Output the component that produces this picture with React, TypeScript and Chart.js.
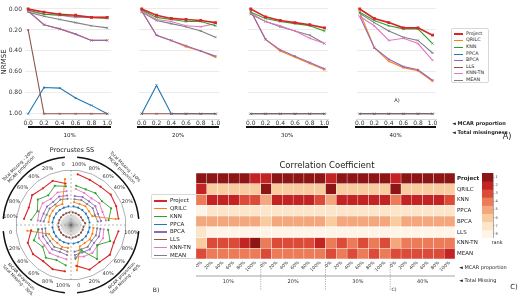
import React, { useEffect, useRef } from "react";
import { Chart, registerables } from "chart.js";
Chart.register(...registerables);

const FONT = "DejaVu Sans";
Chart.defaults.font.family = FONT;
Chart.defaults.color = "#333";

// ---------- shared categories ----------
const METHODS = ["Project", "QRILC", "KNN", "PPCA", "BPCA", "LLS", "KNN-TN", "MEAN"];
const METHOD_COLORS = ["#d62728", "#ff7f0e", "#2ca02c", "#1f77b4", "#9467bd", "#8c564b", "#e377c2", "#7f7f7f"];
const MCAR_PROPS = [0, 0.2, 0.4, 0.6, 0.8, 1.0];
const MCAR_LABELS = ["0%", "20%", "40%", "60%", "80%", "100%"];
const POLAR_LABELS = ["0", "20%", "40%", "60%", "80%", "100%"];
const TOTAL_MISSING = ["10%", "20%", "30%", "40%"];
const NRMSE_TICKS = [0, 0.2, 0.4, 0.6, 0.8, 1.0];
const RANK_LEVELS = [1, 2, 3, 4, 5, 6, 7, 8];
const RANK_COLORS = ["#8e1515", "#c42323", "#dc4a38", "#ec7b58", "#f4a67c", "#f8cc9f", "#fce5c8", "#fff4e8"];

// ---------- A) NRMSE (per total missingness 10/20/30/40 %, over MCAR proportion) ----------
const nrmseProject = [
  [0.0, 0.03, 0.05, 0.06, 0.08, 0.08],
  [0.0, 0.06, 0.09, 0.1, 0.11, 0.13],
  [0.0, 0.075, 0.11, 0.13, 0.15, 0.18],
  [0.0, 0.09, 0.13, 0.18, 0.18, 0.25],
];
const nrmseQRILC = [
  [0.02, 0.15, 0.19, 0.24, 0.3, 0.3],
  [0.02, 0.25, 0.3, 0.36, 0.4, 0.46],
  [0.02, 0.29, 0.4, 0.46, 0.52, 0.58],
  [0.03, 0.37, 0.5, 0.56, 0.59, 0.69],
];
const nrmseKNN = [
  [0.01, 0.05, 0.06, 0.07, 0.08, 0.09],
  [0.01, 0.08, 0.1, 0.12, 0.12, 0.16],
  [0.03, 0.09, 0.12, 0.14, 0.16, 0.21],
  [0.03, 0.11, 0.16, 0.19, 0.19, 0.33],
];
const nrmsePPCA = [
  [1.0, 0.75, 0.755, 0.85, 0.92, 1.0],
  [1.0, 0.73, 1.0, 1.0, 1.0, 1.0],
  [1.0, 1.0, 1.0, 1.0, 1.0, 1.0],
  [1.0, 1.0, 1.0, 1.0, 1.0, 1.0],
];
const nrmseBPCA = [
  [0.02, 0.15, 0.19, 0.24, 0.3, 0.3],
  [0.02, 0.25, 0.3, 0.35, 0.4, 0.45],
  [0.02, 0.29, 0.39, 0.45, 0.51, 0.57],
  [0.07, 0.37, 0.48, 0.55, 0.58, 0.68],
];
const nrmseLLS = [
  [0.2, 1.0, 1.0, 1.0, 1.0, 1.0],
  [1.0, 1.0, 1.0, 1.0, 1.0, 1.0],
  [1.0, 1.0, 1.0, 1.0, 1.0, 1.0],
  [1.0, 1.0, 1.0, 1.0, 1.0, 1.0],
];
const nrmseKNNTN = [
  [0.02, 0.05, 0.06, 0.08, 0.08, 0.08],
  [0.02, 0.1, 0.12, 0.16, 0.17, 0.14],
  [0.04, 0.12, 0.16, 0.21, 0.28, 0.33],
  [0.07, 0.16, 0.3, 0.28, 0.33, 0.49],
];
const nrmseMEAN = [
  [0.03, 0.07, 0.1, 0.13, 0.16, 0.18],
  [0.03, 0.11, 0.14, 0.17, 0.21, 0.27],
  [0.05, 0.12, 0.17, 0.21, 0.25, 0.33],
  [0.04, 0.13, 0.21, 0.27, 0.3, 0.42],
];

// ---------- B) Procrustes SS radial score ----------
const procProject = [
  [8.7, 8.9, 9.1, 8.8, 8.9, 9.3],
  [7.6, 8.7, 8.4, 8.9, 8.3, 8.6],
  [7.3, 8.5, 8.7, 8.3, 8.7, 8.5],
  [7.5, 8.8, 8.5, 8.9, 8.4, 8.7],
];
const procQRILC = [
  [8.2, 4.2, 4.1, 4.3, 4.1, 4.2],
  [8.4, 4.1, 4.3, 4.2, 4.2, 4.1],
  [8.0, 4.3, 4.2, 4.1, 4.3, 4.2],
  [8.3, 4.2, 4.1, 4.3, 4.2, 4.1],
];
const procKNN = [
  [6.9, 7.9, 7.1, 7.3, 7.0, 7.2],
  [7.1, 7.7, 6.8, 7.6, 6.6, 7.3],
  [6.0, 7.3, 6.5, 7.5, 6.9, 7.4],
  [6.2, 5.0, 7.8, 6.0, 7.7, 6.8],
];
const procPPCA = [
  [3.4, 3.4, 3.4, 3.4, 3.4, 3.4],
  [3.4, 3.4, 3.4, 3.4, 3.4, 3.4],
  [3.4, 3.4, 3.4, 3.4, 3.4, 3.4],
  [3.4, 3.4, 3.4, 3.4, 3.4, 3.4],
];
const procBPCA = [
  [5.5, 5.3, 5.6, 5.4, 5.5, 5.3],
  [5.4, 5.6, 5.3, 5.5, 5.4, 5.6],
  [5.3, 5.5, 5.4, 5.6, 5.3, 5.5],
  [5.5, 5.4, 5.6, 5.3, 5.5, 5.4],
];
const procLLS = [
  [2.6, 2.3, 2.3, 2.3, 2.3, 2.3],
  [2.3, 2.3, 2.3, 2.3, 2.3, 2.3],
  [2.3, 2.3, 2.3, 2.3, 2.3, 2.3],
  [2.3, 2.3, 2.3, 2.3, 2.3, 2.3],
];
const procKNNTN = [
  [6.4, 6.2, 6.5, 6.1, 6.3, 6.6],
  [6.2, 6.4, 6.0, 6.5, 6.3, 6.1],
  [6.0, 6.3, 6.1, 6.4, 6.2, 6.3],
  [5.9, 6.2, 6.4, 6.1, 6.3, 6.0],
];
const procMEAN = [
  [4.9, 4.7, 5.0, 4.8, 4.9, 4.7],
  [4.8, 5.0, 4.7, 4.9, 4.8, 5.0],
  [4.7, 4.9, 4.8, 5.0, 4.7, 4.9],
  [4.9, 4.8, 5.0, 4.7, 4.9, 4.8],
];

// ---------- C) Correlation coefficient rank (24 columns: 4 totals x 6 MCAR) ----------
const rankProject = [1, 1, 1, 1, 1, 2, 2, 1, 1, 1, 1, 1, 2, 1, 1, 1, 1, 1, 2, 1, 1, 1, 1, 1];
const rankQRILC = [2, 6, 6, 6, 6, 6, 1, 6, 6, 6, 6, 6, 1, 6, 6, 6, 6, 6, 1, 6, 6, 6, 6, 6];
const rankKNN = [4, 2, 2, 2, 3, 3, 5, 2, 2, 2, 2, 3, 5, 2, 2, 2, 2, 2, 4, 2, 2, 2, 2, 3];
const rankPPCA = [8, 7, 7, 7, 7, 7, 7, 7, 7, 7, 7, 7, 7, 7, 7, 7, 7, 7, 7, 7, 7, 7, 7, 7];
const rankBPCA = [5, 5, 5, 5, 5, 5, 6, 5, 5, 5, 5, 5, 6, 5, 5, 5, 5, 5, 6, 5, 5, 5, 5, 5];
const rankLLS = [7, 8, 8, 8, 8, 8, 8, 8, 8, 8, 8, 8, 8, 8, 8, 8, 8, 8, 8, 8, 8, 8, 8, 8];
const rankKNNTN = [6, 3, 3, 3, 2, 1, 4, 3, 3, 3, 3, 2, 4, 3, 4, 3, 4, 3, 5, 4, 4, 4, 4, 4];
const rankMEAN = [3, 4, 4, 4, 4, 4, 3, 4, 4, 4, 4, 4, 3, 4, 3, 4, 3, 4, 3, 3, 3, 3, 3, 2];

const NRMSE = [nrmseProject, nrmseQRILC, nrmseKNN, nrmsePPCA, nrmseBPCA, nrmseLLS, nrmseKNNTN, nrmseMEAN];
const PROC = [procProject, procQRILC, procKNN, procPPCA, procBPCA, procLLS, procKNNTN, procMEAN];
const RANKS = [rankProject, rankQRILC, rankKNN, rankPPCA, rankBPCA, rankLLS, rankKNNTN, rankMEAN];

// ---------- layout (not data) ----------
const PANEL_AREAS = [[25, 115], [134, 223], [243, 332], [352, 440]];
const PANEL_BARS = [[28, 111], [137, 219], [246, 328], [355, 436]];
const DRAW_ORDER = [0, 2, 6, 7, 5, 4, 1, 3]; // top-most first

const noPad = (s: any) => { s.paddingTop = 0; s.paddingBottom = 0; s.paddingLeft = 0; s.paddingRight = 0; };

function ChartCanvas({ x, y, w, h, make }: any) {
  const ref = useRef<HTMLCanvasElement>(null);
  useEffect(() => {
    const chart = new Chart(ref.current as HTMLCanvasElement, make());
    return () => chart.destroy();
  }, []);
  return (
    <canvas ref={ref} width={w} height={h}
      style={{ position: "absolute", left: x, top: y, width: w, height: h }} />
  );
}

function T({ x, y, s = 6, b = false, a = "c", r = 0, c = "#222", children }: any) {
  const tx = a === "c" ? "-50%" : a === "l" ? "0%" : "-100%";
  return (
    <div style={{
      position: "absolute", left: x, top: y, fontSize: s, fontWeight: b ? "bold" : "normal",
      color: c, fontFamily: FONT, lineHeight: 1.15, whiteSpace: "pre", textAlign: "center",
      transform: `translate(${tx},-50%) rotate(${r}deg)`,
    }}>{children}</div>
  );
}

function lineConfig(k: number) {
  return {
    type: "line",
    data: {
      datasets: DRAW_ORDER.map((m) => ({
        label: METHODS[m],
        data: MCAR_PROPS.map((p, i) => ({ x: p, y: NRMSE[m][k][i] })),
        borderColor: METHOD_COLORS[m],
        backgroundColor: METHOD_COLORS[m],
        pointBorderColor: METHOD_COLORS[m],
        borderWidth: m === 0 ? 1.6 : 1.1,
        pointStyle: m === 0 ? "rect" : "crossRot",
        pointRadius: m === 0 ? 2 : 1.4,
        pointBorderWidth: m === 0 ? 0 : 0.8,
        tension: 0,
      })),
    },
    options: {
      responsive: false,
      animation: false,
      events: [],
      layout: { padding: { top: 2, right: 1, left: 0, bottom: 0 } },
      plugins: { legend: { display: false }, tooltip: { enabled: false } },
      scales: {
        x: {
          type: "linear", min: -0.04, max: 1.05,
          afterBuildTicks: (s: any) => { s.ticks = MCAR_PROPS.map((v) => ({ value: v })); },
          ticks: { font: { size: 6 }, color: "#333", padding: 1, maxRotation: 0, autoSkip: false,
            callback: (v: any) => Number(v).toFixed(1) },
          grid: { display: false, drawTicks: false },
          border: { display: true, color: "#cfcfcf", width: 0.8 },
          afterFit: (s: any) => { s.height = 9; noPad(s); },
        },
        y: {
          type: "linear", reverse: true, min: -0.04, max: 1.05,
          afterBuildTicks: (s: any) => { s.ticks = NRMSE_TICKS.map((v) => ({ value: v })); },
          ticks: { display: k === 0, font: { size: 6 }, color: "#333", padding: 3,
            callback: (v: any) => Number(v).toFixed(2) },
          grid: { color: "#e6e6e6", drawTicks: false, lineWidth: 0.8 },
          border: { display: false },
          title: { display: k === 0, text: "NRMSE", font: { size: 7 }, color: "#222", padding: 0 },
          afterFit: (s: any) => { s.width = k === 0 ? 25 : 0; noPad(s); },
        },
      },
    },
  };
}

// radar: clockwise from 12 o'clock the quadrants are 10%, 40%, 30%, 20%
const POLAR_BLOCKS = [0, 3, 2, 1];
const RADAR_LABELS = POLAR_BLOCKS.flatMap(() => [...POLAR_LABELS].reverse());
const RADAR_START = 7.5;
function radarSeries(vals: number[][], q: number) {
  const out: (number | null)[] = Array(24).fill(null);
  POLAR_BLOCKS.forEach((qq, b) => {
    if (qq === q) for (let p = 0; p < 6; p++) out[b * 6 + p] = vals[q][5 - p];
  });
  return out;
}

const radarDecor = {
  id: "radarDecor",
  beforeDatasetsDraw(chart: any) {
    const r = chart.scales.r;
    const ctx = chart.ctx;
    const cx = r.xCenter, cy = r.yCenter, R = r.drawingArea;
    ctx.save();
    ctx.strokeStyle = "rgba(110,110,110,0.55)";
    ctx.lineWidth = 0.4;
    for (let i = 0; i < 72; i++) {
      const a = (i / 72) * Math.PI * 2;
      ctx.beginPath();
      ctx.moveTo(cx, cy);
      ctx.lineTo(cx + Math.cos(a) * R * 0.19, cy + Math.sin(a) * R * 0.19);
      ctx.stroke();
    }
    ctx.setLineDash([2, 2]);
    ctx.strokeStyle = "#9a9a9a";
    ctx.lineWidth = 0.7;
    ctx.beginPath();
    ctx.moveTo(cx - R, cy); ctx.lineTo(cx + R, cy);
    ctx.moveTo(cx, cy - R); ctx.lineTo(cx, cy + R);
    ctx.stroke();
    ctx.restore();
  },
  afterDraw(chart: any) {
    const r = chart.scales.r;
    const ctx = chart.ctx;
    const cx = r.xCenter, cy = r.yCenter, R = r.drawingArea;
    ctx.save();
    ctx.fillStyle = "#333";
    ctx.font = `5px ${FONT}`;
    ctx.textAlign = "center";
    ctx.textBaseline = "middle";
    RADAR_LABELS.forEach((lab, j) => {
      const a = ((RADAR_START + 15 * j) * Math.PI) / 180;
      const rr = R + 6;
      ctx.fillText(lab, cx + Math.sin(a) * rr, cy - Math.cos(a) * rr);
    });
    ctx.strokeStyle = "#111";
    ctx.lineWidth = 1.5;
    for (let q = 0; q < 4; q++) {
      ctx.beginPath();
      ctx.arc(cx, cy, R + 13, (q * Math.PI) / 2 + 0.09, ((q + 1) * Math.PI) / 2 - 0.09);
      ctx.stroke();
    }
    ctx.restore();
  },
};

function radarConfig() {
  const datasets: any[] = [];
  DRAW_ORDER.forEach((m) => {
    for (let q = 0; q < 4; q++) {
      datasets.push({
        label: METHODS[m],
        data: radarSeries(PROC[m], q),
        borderColor: METHOD_COLORS[m],
        backgroundColor: METHOD_COLORS[m],
        pointBackgroundColor: METHOD_COLORS[m],
        borderWidth: m === 0 ? 1.1 : 0.9,
        pointRadius: 1.1,
        pointBorderWidth: 0,
        fill: false,
        tension: 0,
        spanGaps: false,
      });
    }
  });
  return {
    type: "radar",
    data: { labels: RADAR_LABELS, datasets },
    plugins: [radarDecor],
    options: {
      responsive: false,
      animation: false,
      events: [],
      layout: { padding: 16 },
      plugins: { legend: { display: false }, tooltip: { enabled: false } },
      scales: {
        r: {
          min: 0, max: 10, startAngle: RADAR_START,
          ticks: { display: false, stepSize: 10 },
          grid: { color: (c: any) => (c.tick && c.tick.value === 10 ? "#9a9a9a" : "rgba(0,0,0,0)"), lineWidth: 0.8 },
          angleLines: { display: false },
          pointLabels: { display: false },
        },
      },
    },
  };
}

const HEAT_COLS = TOTAL_MISSING.flatMap(() => MCAR_LABELS);
const HEAT_BOTTOM_UP = [7, 6, 5, 4, 3, 2, 1, 0];

const heatDecor = {
  id: "heatDecor",
  afterDraw(chart: any) {
    const ctx = chart.ctx;
    const xs = chart.scales.x;
    const area = chart.chartArea;
    const step = xs.getPixelForValue(1) - xs.getPixelForValue(0);
    const lineY = area.bottom + 17;
    ctx.save();
    ctx.strokeStyle = "#8a8a8a";
    ctx.lineWidth = 0.8;
    ctx.beginPath();
    ctx.moveTo(area.left, lineY); ctx.lineTo(area.right, lineY);
    ctx.stroke();
    ctx.setLineDash([1.2, 1.2]);
    ctx.strokeStyle = "#777";
    ctx.lineWidth = 0.6;
    for (let g = 1; g < 4; g++) {
      const x = xs.getPixelForValue(g * 6) - step / 2;
      ctx.beginPath();
      ctx.moveTo(x, area.bottom + 3); ctx.lineTo(x, area.bottom + 31);
      ctx.stroke();
    }
    ctx.setLineDash([]);
    ctx.fillStyle = "#333";
    ctx.font = `5px ${FONT}`;
    ctx.textAlign = "center";
    ctx.textBaseline = "middle";
    TOTAL_MISSING.forEach((t, g) => {
      const x = (xs.getPixelForValue(g * 6 + 2) + xs.getPixelForValue(g * 6 + 3)) / 2;
      ctx.fillText(t, x, lineY + 6);
    });
    ctx.restore();
  },
};

function heatConfig() {
  return {
    type: "bar",
    data: {
      labels: HEAT_COLS,
      datasets: HEAT_BOTTOM_UP.map((m) => ({
        label: METHODS[m],
        data: HEAT_COLS.map(() => 1),
        backgroundColor: RANKS[m].map((r) => RANK_COLORS[r - 1]),
        borderColor: "rgba(255,255,255,0.45)",
        borderWidth: 0.5,
        borderSkipped: false,
        barPercentage: 1,
        categoryPercentage: 1,
      })),
    },
    plugins: [heatDecor],
    options: {
      responsive: false,
      animation: false,
      events: [],
      layout: { padding: 0 },
      plugins: { legend: { display: false }, tooltip: { enabled: false } },
      scales: {
        x: {
          stacked: true,
          grid: { display: false, drawTicks: false },
          border: { display: false },
          ticks: { font: { size: 4.5 }, color: "#333", minRotation: 45, maxRotation: 45, padding: 1, autoSkip: false },
          afterFit: (s: any) => { s.height = 37; noPad(s); },
        },
        y: {
          stacked: true, min: 0, max: 8, position: "right",
          afterBuildTicks: (s: any) => { s.ticks = HEAT_BOTTOM_UP.map((_, i) => ({ value: i + 0.5 })); },
          ticks: {
            autoSkip: false, padding: 2, color: "#222",
            font: (c: any) => ({ size: 5.5, weight: c.index === 7 ? "bold" : "normal" }),
            callback: (v: any) => METHODS[HEAT_BOTTOM_UP[Math.floor(Number(v))]],
          },
          grid: { display: false, drawTicks: false },
          border: { display: false },
          afterFit: (s: any) => { s.width = 30; noPad(s); },
        },
      },
    },
  };
}

function colorbarConfig() {
  return {
    type: "bar",
    data: {
      labels: ["rank"],
      datasets: RANK_LEVELS.map((r) => ({
        label: String(r),
        data: [1],
        backgroundColor: RANK_COLORS[r - 1],
        borderWidth: 0,
        barPercentage: 1,
        categoryPercentage: 1,
      })),
    },
    options: {
      responsive: false,
      animation: false,
      events: [],
      layout: { padding: 0 },
      plugins: { legend: { display: false }, tooltip: { enabled: false } },
      scales: {
        x: { stacked: true, display: false },
        y: {
          stacked: true, reverse: true, min: 0, max: 8, position: "right",
          afterBuildTicks: (s: any) => { s.ticks = RANK_LEVELS.map((_, i) => ({ value: i + 0.5 })); },
          ticks: { font: { size: 3.5 }, color: "#333", padding: 1, autoSkip: false,
            callback: (v: any) => String(RANK_LEVELS[Math.floor(Number(v))]) },
          grid: { drawOnChartArea: false, drawTicks: true, tickLength: 1.5, color: "#444", lineWidth: 0.5 },
          border: { display: true, color: "#555", width: 0.5 },
          afterFit: (s: any) => { s.width = 10; noPad(s); },
        },
      },
    },
  };
}

function Legend({ x, y, w, h, gap, fs, line }: any) {
  return (
    <div style={{ position: "absolute", left: x, top: y, width: w, height: h, border: "0.8px solid #d8d8d8",
      borderRadius: 2, background: "#fff", boxSizing: "border-box" }}>
      {METHODS.map((m, i) => (
        <div key={m} style={{ position: "absolute", left: 2, top: 2 + i * gap, height: gap, display: "flex", alignItems: "center" }}>
          <div style={{ width: line, height: i === 0 ? 1.8 : 1.2, background: METHOD_COLORS[i], marginRight: 3 }} />
          <span style={{ fontSize: fs, fontFamily: FONT, color: "#222", lineHeight: 1 }}>{m}</span>
        </div>
      ))}
    </div>
  );
}

export default function App() {
  return (
    <div style={{ position: "absolute", left: 0, top: 0, width: 520, height: 296, background: "#fff", overflow: "hidden" }}>
      {/* A) NRMSE line panels */}
      {PANEL_AREAS.map(([l, r], k) => {
        const x = k === 0 ? 0 : l;
        return <ChartCanvas key={"p" + k} x={x} y={0} w={r - x + 1} h={128} make={() => lineConfig(k)} />;
      })}
      {PANEL_BARS.map(([l, r], k) => (
        <div key={"b" + k} style={{ position: "absolute", left: l, top: 126, width: r - l, height: 2, background: "#111" }} />
      ))}
      {PANEL_BARS.map(([l, r], k) => (
        <T key={"t" + k} x={(l + r) / 2} y={135} s={5.5}>{TOTAL_MISSING[k]}</T>
      ))}
      <Legend x={451} y={28} w={38} h={55} gap={6.6} fs={4.8} line={9} />
      <T x={397} y={101} s={5}>A)</T>
      <T x={452} y={124} s={5} b a="l">◄ MCAR proportion</T>
      <T x={452} y={133} s={5} b a="l">◄ Total missingness</T>
      <T x={507} y={137} s={8}>A)</T>

      {/* B) Procrustes SS */}
      <T x={72} y={151} s={6.5}>Procrustes SS</T>
      <ChartCanvas x={0} y={154} w={143} h={143} make={radarConfig} />
      <T x={20} y={168} s={4.3} r={-45}>{"Total Missing - 20%\nMCAR proportion"}</T>
      <T x={123} y={169} s={4.3} r={45}>{"Total Missing - 10%\nMCAR proportion"}</T>
      <T x={19} y={279} s={4.3} r={45}>{"MCAR proportion\nTotal Missing - 30%"}</T>
      <T x={124} y={278} s={4.3} r={-45}>{"MCAR proportion\nTotal Missing - 40%"}</T>
      <Legend x={151} y={194} w={46} h={65} gap={7.8} fs={5.5} line={13} />
      <T x={156} y={290} s={6}>B)</T>

      {/* C) Correlation coefficient heatmap */}
      <T x={327} y={166} s={8.5}>Correlation Coefficient</T>
      <ChartCanvas x={196} y={173} w={289} h={123} make={heatConfig} />
      <ChartCanvas x={482} y={173} w={21} h={65} make={colorbarConfig} />
      <T x={497} y={243} s={5}>rank</T>
      <T x={459} y={268} s={5} a="l">◄ MCAR proportion</T>
      <T x={459} y={281} s={5} a="l">◄ Total Missing</T>
      <T x={394} y={290} s={4.5}>C)</T>
      <T x={514} y={287} s={7}>C)</T>
    </div>
  );
}
